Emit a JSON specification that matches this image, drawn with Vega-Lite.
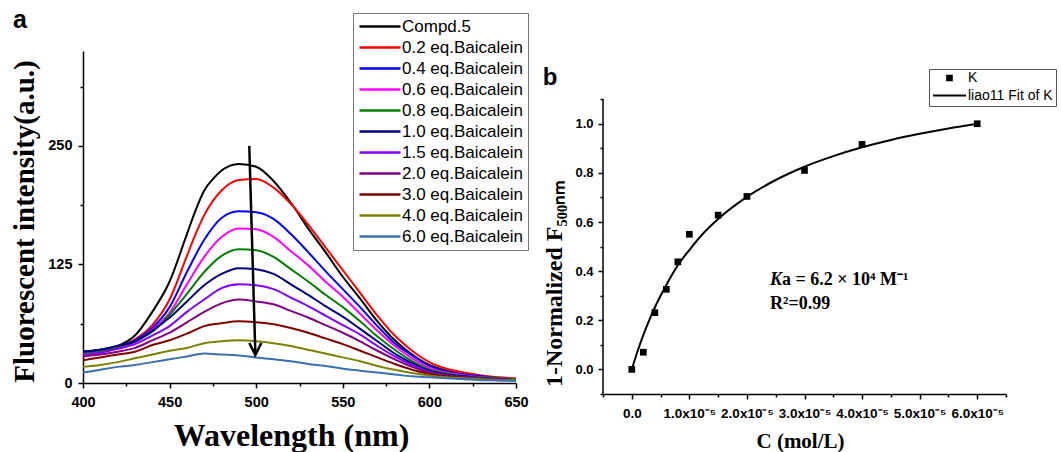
{
"$schema": "https://vega.github.io/schema/vega-lite/v6.json",
"padding": {"left": 10, "top": 8, "right": 0, "bottom": 0},
"spacing": 13,
"resolve": {"scale": {"color": "independent"}, "legend": {"color": "independent"}},
"config": {
  "view": {"stroke": null},
  "axis": {"domainColor": "black", "domainWidth": 1.5, "tickColor": "black", "tickWidth": 1.5, "labelColor": "black", "titleColor": "black", "labelFont": "Liberation Sans", "labelFontWeight": "bold", "titleFont": "Liberation Serif", "titleFontWeight": "bold", "grid": false, "labelOverlap": false, "labelFlush": false, "labelBound": false},
  "legend": {"labelFont": "Liberation Sans", "labelColor": "black"}
},
"datasets": {
  "spectra": [
{"s":"Compd.5","wl":400,"v":33},{"s":"Compd.5","wl":410,"v":35},{"s":"Compd.5","wl":420,"v":39},{"s":"Compd.5","wl":430,"v":50},{"s":"Compd.5","wl":440,"v":75},{"s":"Compd.5","wl":450,"v":107},{"s":"Compd.5","wl":460,"v":157},{"s":"Compd.5","wl":465,"v":182},{"s":"Compd.5","wl":470,"v":203},{"s":"Compd.5","wl":475,"v":215},{"s":"Compd.5","wl":480,"v":224},{"s":"Compd.5","wl":490,"v":231},{"s":"Compd.5","wl":500,"v":228},{"s":"Compd.5","wl":510,"v":213},{"s":"Compd.5","wl":520,"v":190},{"s":"Compd.5","wl":530,"v":163},{"s":"Compd.5","wl":540,"v":138},{"s":"Compd.5","wl":550,"v":112},{"s":"Compd.5","wl":560,"v":89},{"s":"Compd.5","wl":570,"v":65},{"s":"Compd.5","wl":580,"v":45},{"s":"Compd.5","wl":590,"v":30},{"s":"Compd.5","wl":600,"v":19},{"s":"Compd.5","wl":610,"v":13},{"s":"Compd.5","wl":620,"v":9},{"s":"Compd.5","wl":630,"v":6},{"s":"Compd.5","wl":640,"v":5},{"s":"Compd.5","wl":650,"v":4},
{"s":"0.2 eq.Baicalein","wl":400,"v":32},{"s":"0.2 eq.Baicalein","wl":410,"v":34},{"s":"0.2 eq.Baicalein","wl":420,"v":38},{"s":"0.2 eq.Baicalein","wl":430,"v":46},{"s":"0.2 eq.Baicalein","wl":440,"v":61},{"s":"0.2 eq.Baicalein","wl":450,"v":88},{"s":"0.2 eq.Baicalein","wl":460,"v":134},{"s":"0.2 eq.Baicalein","wl":465,"v":157},{"s":"0.2 eq.Baicalein","wl":470,"v":177},{"s":"0.2 eq.Baicalein","wl":475,"v":192},{"s":"0.2 eq.Baicalein","wl":480,"v":203},{"s":"0.2 eq.Baicalein","wl":490,"v":214},{"s":"0.2 eq.Baicalein","wl":500,"v":215},{"s":"0.2 eq.Baicalein","wl":510,"v":206},{"s":"0.2 eq.Baicalein","wl":520,"v":189},{"s":"0.2 eq.Baicalein","wl":530,"v":167},{"s":"0.2 eq.Baicalein","wl":540,"v":143},{"s":"0.2 eq.Baicalein","wl":550,"v":119},{"s":"0.2 eq.Baicalein","wl":560,"v":95},{"s":"0.2 eq.Baicalein","wl":570,"v":71},{"s":"0.2 eq.Baicalein","wl":580,"v":50},{"s":"0.2 eq.Baicalein","wl":590,"v":34},{"s":"0.2 eq.Baicalein","wl":600,"v":22},{"s":"0.2 eq.Baicalein","wl":610,"v":15},{"s":"0.2 eq.Baicalein","wl":620,"v":11},{"s":"0.2 eq.Baicalein","wl":630,"v":8},{"s":"0.2 eq.Baicalein","wl":640,"v":6},{"s":"0.2 eq.Baicalein","wl":650,"v":5},
{"s":"0.4 eq.Baicalein","wl":400,"v":33},{"s":"0.4 eq.Baicalein","wl":410,"v":35},{"s":"0.4 eq.Baicalein","wl":420,"v":39},{"s":"0.4 eq.Baicalein","wl":430,"v":45},{"s":"0.4 eq.Baicalein","wl":440,"v":58},{"s":"0.4 eq.Baicalein","wl":450,"v":80},{"s":"0.4 eq.Baicalein","wl":460,"v":117},{"s":"0.4 eq.Baicalein","wl":470,"v":151},{"s":"0.4 eq.Baicalein","wl":480,"v":174},{"s":"0.4 eq.Baicalein","wl":490,"v":181},{"s":"0.4 eq.Baicalein","wl":500,"v":180},{"s":"0.4 eq.Baicalein","wl":510,"v":173},{"s":"0.4 eq.Baicalein","wl":520,"v":157},{"s":"0.4 eq.Baicalein","wl":530,"v":138},{"s":"0.4 eq.Baicalein","wl":540,"v":118},{"s":"0.4 eq.Baicalein","wl":550,"v":99},{"s":"0.4 eq.Baicalein","wl":560,"v":80},{"s":"0.4 eq.Baicalein","wl":570,"v":60},{"s":"0.4 eq.Baicalein","wl":580,"v":42},{"s":"0.4 eq.Baicalein","wl":590,"v":29},{"s":"0.4 eq.Baicalein","wl":600,"v":18},{"s":"0.4 eq.Baicalein","wl":610,"v":12},{"s":"0.4 eq.Baicalein","wl":620,"v":9},{"s":"0.4 eq.Baicalein","wl":630,"v":7},{"s":"0.4 eq.Baicalein","wl":640,"v":5},{"s":"0.4 eq.Baicalein","wl":650,"v":4},
{"s":"0.6 eq.Baicalein","wl":400,"v":31},{"s":"0.6 eq.Baicalein","wl":410,"v":33},{"s":"0.6 eq.Baicalein","wl":420,"v":37},{"s":"0.6 eq.Baicalein","wl":430,"v":43},{"s":"0.6 eq.Baicalein","wl":440,"v":56},{"s":"0.6 eq.Baicalein","wl":450,"v":74},{"s":"0.6 eq.Baicalein","wl":460,"v":104},{"s":"0.6 eq.Baicalein","wl":470,"v":133},{"s":"0.6 eq.Baicalein","wl":480,"v":154},{"s":"0.6 eq.Baicalein","wl":490,"v":163},{"s":"0.6 eq.Baicalein","wl":500,"v":162},{"s":"0.6 eq.Baicalein","wl":510,"v":154},{"s":"0.6 eq.Baicalein","wl":520,"v":139},{"s":"0.6 eq.Baicalein","wl":530,"v":124},{"s":"0.6 eq.Baicalein","wl":540,"v":107},{"s":"0.6 eq.Baicalein","wl":550,"v":91},{"s":"0.6 eq.Baicalein","wl":560,"v":73},{"s":"0.6 eq.Baicalein","wl":570,"v":55},{"s":"0.6 eq.Baicalein","wl":580,"v":39},{"s":"0.6 eq.Baicalein","wl":590,"v":26},{"s":"0.6 eq.Baicalein","wl":600,"v":16},{"s":"0.6 eq.Baicalein","wl":610,"v":11},{"s":"0.6 eq.Baicalein","wl":620,"v":8},{"s":"0.6 eq.Baicalein","wl":630,"v":6},{"s":"0.6 eq.Baicalein","wl":640,"v":5},{"s":"0.6 eq.Baicalein","wl":650,"v":4},
{"s":"0.8 eq.Baicalein","wl":400,"v":32},{"s":"0.8 eq.Baicalein","wl":410,"v":34},{"s":"0.8 eq.Baicalein","wl":420,"v":38},{"s":"0.8 eq.Baicalein","wl":430,"v":44},{"s":"0.8 eq.Baicalein","wl":440,"v":54},{"s":"0.8 eq.Baicalein","wl":450,"v":72},{"s":"0.8 eq.Baicalein","wl":460,"v":94},{"s":"0.8 eq.Baicalein","wl":470,"v":117},{"s":"0.8 eq.Baicalein","wl":480,"v":134},{"s":"0.8 eq.Baicalein","wl":490,"v":141},{"s":"0.8 eq.Baicalein","wl":500,"v":140},{"s":"0.8 eq.Baicalein","wl":510,"v":133},{"s":"0.8 eq.Baicalein","wl":520,"v":120},{"s":"0.8 eq.Baicalein","wl":530,"v":107},{"s":"0.8 eq.Baicalein","wl":540,"v":93},{"s":"0.8 eq.Baicalein","wl":550,"v":80},{"s":"0.8 eq.Baicalein","wl":560,"v":65},{"s":"0.8 eq.Baicalein","wl":570,"v":49},{"s":"0.8 eq.Baicalein","wl":580,"v":35},{"s":"0.8 eq.Baicalein","wl":590,"v":23},{"s":"0.8 eq.Baicalein","wl":600,"v":14},{"s":"0.8 eq.Baicalein","wl":610,"v":10},{"s":"0.8 eq.Baicalein","wl":620,"v":7},{"s":"0.8 eq.Baicalein","wl":630,"v":6},{"s":"0.8 eq.Baicalein","wl":640,"v":5},{"s":"0.8 eq.Baicalein","wl":650,"v":4},
{"s":"1.0 eq.Baicalein","wl":400,"v":33},{"s":"1.0 eq.Baicalein","wl":410,"v":35},{"s":"1.0 eq.Baicalein","wl":420,"v":39},{"s":"1.0 eq.Baicalein","wl":430,"v":44},{"s":"1.0 eq.Baicalein","wl":440,"v":55},{"s":"1.0 eq.Baicalein","wl":450,"v":69},{"s":"1.0 eq.Baicalein","wl":460,"v":86},{"s":"1.0 eq.Baicalein","wl":470,"v":103},{"s":"1.0 eq.Baicalein","wl":480,"v":115},{"s":"1.0 eq.Baicalein","wl":490,"v":121},{"s":"1.0 eq.Baicalein","wl":500,"v":120},{"s":"1.0 eq.Baicalein","wl":510,"v":115},{"s":"1.0 eq.Baicalein","wl":520,"v":104},{"s":"1.0 eq.Baicalein","wl":530,"v":93},{"s":"1.0 eq.Baicalein","wl":540,"v":81},{"s":"1.0 eq.Baicalein","wl":550,"v":70},{"s":"1.0 eq.Baicalein","wl":560,"v":57},{"s":"1.0 eq.Baicalein","wl":570,"v":44},{"s":"1.0 eq.Baicalein","wl":580,"v":31},{"s":"1.0 eq.Baicalein","wl":590,"v":21},{"s":"1.0 eq.Baicalein","wl":600,"v":13},{"s":"1.0 eq.Baicalein","wl":610,"v":9},{"s":"1.0 eq.Baicalein","wl":620,"v":7},{"s":"1.0 eq.Baicalein","wl":630,"v":5},{"s":"1.0 eq.Baicalein","wl":640,"v":4},{"s":"1.0 eq.Baicalein","wl":650,"v":3},
{"s":"1.5 eq.Baicalein","wl":400,"v":30},{"s":"1.5 eq.Baicalein","wl":410,"v":32},{"s":"1.5 eq.Baicalein","wl":420,"v":36},{"s":"1.5 eq.Baicalein","wl":430,"v":41},{"s":"1.5 eq.Baicalein","wl":440,"v":50},{"s":"1.5 eq.Baicalein","wl":450,"v":60},{"s":"1.5 eq.Baicalein","wl":460,"v":75},{"s":"1.5 eq.Baicalein","wl":470,"v":88},{"s":"1.5 eq.Baicalein","wl":480,"v":100},{"s":"1.5 eq.Baicalein","wl":490,"v":104},{"s":"1.5 eq.Baicalein","wl":500,"v":103},{"s":"1.5 eq.Baicalein","wl":510,"v":99},{"s":"1.5 eq.Baicalein","wl":520,"v":90},{"s":"1.5 eq.Baicalein","wl":530,"v":81},{"s":"1.5 eq.Baicalein","wl":540,"v":71},{"s":"1.5 eq.Baicalein","wl":550,"v":61},{"s":"1.5 eq.Baicalein","wl":560,"v":51},{"s":"1.5 eq.Baicalein","wl":570,"v":39},{"s":"1.5 eq.Baicalein","wl":580,"v":28},{"s":"1.5 eq.Baicalein","wl":590,"v":19},{"s":"1.5 eq.Baicalein","wl":600,"v":12},{"s":"1.5 eq.Baicalein","wl":610,"v":8},{"s":"1.5 eq.Baicalein","wl":620,"v":6},{"s":"1.5 eq.Baicalein","wl":630,"v":5},{"s":"1.5 eq.Baicalein","wl":640,"v":4},{"s":"1.5 eq.Baicalein","wl":650,"v":3},
{"s":"2.0 eq.Baicalein","wl":400,"v":28},{"s":"2.0 eq.Baicalein","wl":410,"v":30},{"s":"2.0 eq.Baicalein","wl":420,"v":33},{"s":"2.0 eq.Baicalein","wl":430,"v":37},{"s":"2.0 eq.Baicalein","wl":440,"v":45},{"s":"2.0 eq.Baicalein","wl":450,"v":53},{"s":"2.0 eq.Baicalein","wl":460,"v":64},{"s":"2.0 eq.Baicalein","wl":470,"v":75},{"s":"2.0 eq.Baicalein","wl":480,"v":84},{"s":"2.0 eq.Baicalein","wl":490,"v":88},{"s":"2.0 eq.Baicalein","wl":500,"v":86},{"s":"2.0 eq.Baicalein","wl":510,"v":83},{"s":"2.0 eq.Baicalein","wl":520,"v":76},{"s":"2.0 eq.Baicalein","wl":530,"v":69},{"s":"2.0 eq.Baicalein","wl":540,"v":61},{"s":"2.0 eq.Baicalein","wl":550,"v":53},{"s":"2.0 eq.Baicalein","wl":560,"v":44},{"s":"2.0 eq.Baicalein","wl":570,"v":34},{"s":"2.0 eq.Baicalein","wl":580,"v":25},{"s":"2.0 eq.Baicalein","wl":590,"v":17},{"s":"2.0 eq.Baicalein","wl":600,"v":11},{"s":"2.0 eq.Baicalein","wl":610,"v":8},{"s":"2.0 eq.Baicalein","wl":620,"v":6},{"s":"2.0 eq.Baicalein","wl":630,"v":5},{"s":"2.0 eq.Baicalein","wl":640,"v":4},{"s":"2.0 eq.Baicalein","wl":650,"v":3},
{"s":"3.0 eq.Baicalein","wl":400,"v":24},{"s":"3.0 eq.Baicalein","wl":410,"v":27},{"s":"3.0 eq.Baicalein","wl":420,"v":30},{"s":"3.0 eq.Baicalein","wl":430,"v":33},{"s":"3.0 eq.Baicalein","wl":440,"v":40},{"s":"3.0 eq.Baicalein","wl":450,"v":45},{"s":"3.0 eq.Baicalein","wl":460,"v":52},{"s":"3.0 eq.Baicalein","wl":470,"v":60},{"s":"3.0 eq.Baicalein","wl":480,"v":63},{"s":"3.0 eq.Baicalein","wl":490,"v":65},{"s":"3.0 eq.Baicalein","wl":500,"v":64},{"s":"3.0 eq.Baicalein","wl":510,"v":62},{"s":"3.0 eq.Baicalein","wl":520,"v":58},{"s":"3.0 eq.Baicalein","wl":530,"v":53},{"s":"3.0 eq.Baicalein","wl":540,"v":47},{"s":"3.0 eq.Baicalein","wl":550,"v":41},{"s":"3.0 eq.Baicalein","wl":560,"v":34},{"s":"3.0 eq.Baicalein","wl":570,"v":27},{"s":"3.0 eq.Baicalein","wl":580,"v":20},{"s":"3.0 eq.Baicalein","wl":590,"v":14},{"s":"3.0 eq.Baicalein","wl":600,"v":9.5},{"s":"3.0 eq.Baicalein","wl":610,"v":7},{"s":"3.0 eq.Baicalein","wl":620,"v":5},{"s":"3.0 eq.Baicalein","wl":630,"v":4},{"s":"3.0 eq.Baicalein","wl":640,"v":3},{"s":"3.0 eq.Baicalein","wl":650,"v":3},
{"s":"4.0 eq.Baicalein","wl":400,"v":17},{"s":"4.0 eq.Baicalein","wl":410,"v":19},{"s":"4.0 eq.Baicalein","wl":420,"v":22},{"s":"4.0 eq.Baicalein","wl":430,"v":26},{"s":"4.0 eq.Baicalein","wl":440,"v":30},{"s":"4.0 eq.Baicalein","wl":450,"v":34},{"s":"4.0 eq.Baicalein","wl":460,"v":37},{"s":"4.0 eq.Baicalein","wl":470,"v":42},{"s":"4.0 eq.Baicalein","wl":480,"v":44},{"s":"4.0 eq.Baicalein","wl":490,"v":45},{"s":"4.0 eq.Baicalein","wl":500,"v":44},{"s":"4.0 eq.Baicalein","wl":510,"v":42},{"s":"4.0 eq.Baicalein","wl":520,"v":39},{"s":"4.0 eq.Baicalein","wl":530,"v":35},{"s":"4.0 eq.Baicalein","wl":540,"v":31},{"s":"4.0 eq.Baicalein","wl":550,"v":27},{"s":"4.0 eq.Baicalein","wl":560,"v":23},{"s":"4.0 eq.Baicalein","wl":570,"v":18},{"s":"4.0 eq.Baicalein","wl":580,"v":14},{"s":"4.0 eq.Baicalein","wl":590,"v":10.5},{"s":"4.0 eq.Baicalein","wl":600,"v":8},{"s":"4.0 eq.Baicalein","wl":610,"v":6},{"s":"4.0 eq.Baicalein","wl":620,"v":5},{"s":"4.0 eq.Baicalein","wl":630,"v":4},{"s":"4.0 eq.Baicalein","wl":640,"v":3},{"s":"4.0 eq.Baicalein","wl":650,"v":3},
{"s":"6.0 eq.Baicalein","wl":400,"v":11},{"s":"6.0 eq.Baicalein","wl":410,"v":14},{"s":"6.0 eq.Baicalein","wl":420,"v":17},{"s":"6.0 eq.Baicalein","wl":430,"v":19},{"s":"6.0 eq.Baicalein","wl":440,"v":22},{"s":"6.0 eq.Baicalein","wl":450,"v":25},{"s":"6.0 eq.Baicalein","wl":460,"v":28},{"s":"6.0 eq.Baicalein","wl":470,"v":31},{"s":"6.0 eq.Baicalein","wl":480,"v":30},{"s":"6.0 eq.Baicalein","wl":490,"v":29},{"s":"6.0 eq.Baicalein","wl":500,"v":27},{"s":"6.0 eq.Baicalein","wl":510,"v":25},{"s":"6.0 eq.Baicalein","wl":520,"v":23},{"s":"6.0 eq.Baicalein","wl":530,"v":20},{"s":"6.0 eq.Baicalein","wl":540,"v":18},{"s":"6.0 eq.Baicalein","wl":550,"v":15},{"s":"6.0 eq.Baicalein","wl":560,"v":13},{"s":"6.0 eq.Baicalein","wl":570,"v":11},{"s":"6.0 eq.Baicalein","wl":580,"v":9},{"s":"6.0 eq.Baicalein","wl":590,"v":7},{"s":"6.0 eq.Baicalein","wl":600,"v":6},{"s":"6.0 eq.Baicalein","wl":610,"v":5},{"s":"6.0 eq.Baicalein","wl":620,"v":4},{"s":"6.0 eq.Baicalein","wl":630,"v":3},{"s":"6.0 eq.Baicalein","wl":640,"v":3},{"s":"6.0 eq.Baicalein","wl":650,"v":2}
  ],
  "pts": [
{"k":"K","c":0,"f":0},{"k":"K","c":2e-6,"f":0.07},{"k":"K","c":4e-6,"f":0.231},{"k":"K","c":6e-6,"f":0.326},{"k":"K","c":8e-6,"f":0.438},{"k":"K","c":1e-5,"f":0.55},{"k":"K","c":1.5e-5,"f":0.628},{"k":"K","c":2e-5,"f":0.704},{"k":"K","c":3e-5,"f":0.81},{"k":"K","c":4e-5,"f":0.916},{"k":"K","c":6e-5,"f":1.0}
  ],
  "fit": [
{"k":"liao11 Fit of K","c":0,"f":0},{"k":"liao11 Fit of K","c":1e-6,"f":0.074},{"k":"liao11 Fit of K","c":2e-6,"f":0.14},{"k":"liao11 Fit of K","c":3e-6,"f":0.199},{"k":"liao11 Fit of K","c":4e-6,"f":0.252},{"k":"liao11 Fit of K","c":5e-6,"f":0.3},{"k":"liao11 Fit of K","c":6e-6,"f":0.344},{"k":"liao11 Fit of K","c":8e-6,"f":0.424},{"k":"liao11 Fit of K","c":1e-5,"f":0.486},{"k":"liao11 Fit of K","c":1.2e-5,"f":0.543},{"k":"liao11 Fit of K","c":1.5e-5,"f":0.612},{"k":"liao11 Fit of K","c":2e-5,"f":0.702},{"k":"liao11 Fit of K","c":2.5e-5,"f":0.771},{"k":"liao11 Fit of K","c":3e-5,"f":0.825},{"k":"liao11 Fit of K","c":3.5e-5,"f":0.868},{"k":"liao11 Fit of K","c":4e-5,"f":0.904},{"k":"liao11 Fit of K","c":4.5e-5,"f":0.934},{"k":"liao11 Fit of K","c":5e-5,"f":0.959},{"k":"liao11 Fit of K","c":5.5e-5,"f":0.981},{"k":"liao11 Fit of K","c":6e-5,"f":1.0}
  ]
},
"hconcat": [
  {
    "width": 433, "height": 332,
    "layer": [
      {
        "data": {"name": "spectra"},
        "mark": {"type": "line", "strokeWidth": 2, "interpolate": "monotone"},
        "encoding": {
          "x": {"field": "wl", "type": "quantitative", "scale": {"domain": [400, 650], "nice": false, "zero": false},
                "axis": {"values": [400,425,450,475,500,525,550,575,600,625,650], "tickCount": 100, "title": "Wavelength (nm)", "titleFontSize": 32, "titlePadding": 12, "titleX": 208, "labelFontSize": 14.5, "labelPadding": 7, "labelOverlap": false,
                         "tickSize": {"condition": {"test": "datum.value % 50 !== 0", "value": 3}, "value": 5},
                         "labelExpr": "datum.value % 50 ? '' : datum.label"}},
          "y": {"field": "v", "type": "quantitative", "scale": {"domain": [0, 350], "nice": false, "zero": false},
                "axis": {"values": [0,62.5,125,187.5,250,312.5], "tickCount": 100, "title": "Fluorescent intensity(a.u.)", "titleFontSize": 29, "titlePadding": 8, "titleY": 170, "labelFontSize": 14.5, "labelPadding": 6, "labelOverlap": false,
                         "tickSize": {"condition": {"test": "datum.value % 125 !== 0", "value": 3}, "value": 5},
                         "labelExpr": "datum.value % 125 ? '' : datum.label"}},
          "color": {"field": "s", "type": "nominal",
                    "scale": {"domain": ["Compd.5","0.2 eq.Baicalein","0.4 eq.Baicalein","0.6 eq.Baicalein","0.8 eq.Baicalein","1.0 eq.Baicalein","1.5 eq.Baicalein","2.0 eq.Baicalein","3.0 eq.Baicalein","4.0 eq.Baicalein","6.0 eq.Baicalein"],
                              "range": ["#000000","#FF0000","#0000FF","#FF00FF","#008000","#000080","#8000FF","#800080","#800000","#808000","#3A70B0"]},
                    "legend": {"title": null, "orient": "none", "legendX": 270, "legendY": -38, "symbolType": "stroke", "symbolSize": 1681, "symbolStrokeWidth": 2.5, "clipHeight": 17, "rowPadding": 3, "padding": 5, "labelFontSize": 17, "labelOffset": 0, "strokeColor": "#777777", "fillColor": "white", "labelLimit": 300}}
        }
      },
      {
        "data": {"values": [{"wl": 496, "v": 250, "wl2": 499.5, "v2": 31}]},
        "mark": {"type": "rule", "strokeWidth": 2.5, "color": "black"},
        "encoding": {"x": {"field": "wl", "type": "quantitative"}, "y": {"field": "v", "type": "quantitative"}, "x2": {"field": "wl2"}, "y2": {"field": "v2"}}
      },
      {
        "data": {"values": [{"wl": 499.5, "v": 29.5}]},
        "mark": {"type": "point", "shape": "M-0.5,-1L0,0L0.5,-1", "size": 576, "filled": false, "stroke": "black", "strokeWidth": 2.5, "opacity": 1},
        "encoding": {"x": {"field": "wl", "type": "quantitative"}, "y": {"field": "v", "type": "quantitative"}}
      },
      {
        "data": {"values": [{"wl": 363.6, "v": 374, "t": "a"}]},
        "mark": {"type": "text", "font": "Liberation Sans", "fontSize": 25, "fontWeight": "bold", "align": "center", "baseline": "alphabetic", "color": "black"},
        "encoding": {"x": {"field": "wl", "type": "quantitative"}, "y": {"field": "v", "type": "quantitative"}, "text": {"field": "t"}}
      }
    ]
  },
  {
    "width": 403, "height": 343,
    "layer": [
      {
        "data": {"name": "fit"},
        "mark": {"type": "line", "strokeWidth": 2, "interpolate": "monotone"},
        "encoding": {
          "x": {"field": "c", "type": "quantitative", "scale": {"domain": [-5e-6, 6.5e-5], "nice": false, "zero": false},
                "axis": {"values": [-5e-6,0,5e-6,1e-5,1.5e-5,2e-5,2.5e-5,3e-5,3.5e-5,4e-5,4.5e-5,5e-5,5.5e-5,6e-5,6.5e-5], "tickCount": 100, "title": "C (mol/L)", "titleFontSize": 21, "titlePadding": 11, "titleX": 197, "labelFontSize": 13.5, "labelPadding": 7, "labelOverlap": false,
                         "tickSize": {"condition": {"test": "indexof([0,1e-5,2e-5,3e-5,4e-5,5e-5,6e-5], datum.value) < 0", "value": 3}, "value": 5},
                         "labelExpr": "indexof([1e-5,2e-5,3e-5,4e-5,5e-5,6e-5], datum.value) >= 0 ? format(datum.value*100000, '.1f') + 'x10⁻⁵' : (datum.value == 0 ? '0.0' : '')"}},
          "y": {"field": "f", "type": "quantitative", "scale": {"domain": [-0.1, 1.296], "nice": false, "zero": false},
                "axis": {"values": [-0.1,0,0.1,0.2,0.3,0.4,0.5,0.6,0.7,0.8,0.9,1.0,1.1], "tickCount": 100, "domain": false, "title": "1-Normalized F₅₀₀ₙₘ", "titleFontSize": 24, "titlePadding": 8, "titleY": 232, "labelFontSize": 13, "labelPadding": 5, "labelOverlap": false,
                         "tickSize": {"condition": {"test": "indexof([0,0.2,0.4,0.6,0.8,1], datum.value) < 0", "value": 3}, "value": 5},
                         "labelExpr": "indexof([0,0.2,0.4,0.6,0.8,1], datum.value) >= 0 ? format(datum.value, '.1f') : ''"}},
          "color": {"field": "k", "type": "nominal",
                    "scale": {"domain": ["K", "liao11 Fit of K"], "range": ["black", "black"]},
                    "legend": {"title": null, "orient": "none", "legendX": 326, "legendY": 18, "symbolSize": 1089, "symbolStrokeWidth": 2, "clipHeight": 12, "rowPadding": 3.5, "padding": 3, "labelFontSize": 14, "labelOffset": 1, "strokeColor": "#555555", "fillColor": "white",
                               "encode": {"symbols": {"update": {
                                 "shape": {"signal": "datum.value === 'K' ? 'M-0.14,-0.14L0.14,-0.14L0.14,0.14L-0.14,0.14Z' : 'stroke'"},
                                 "fill": {"value": "black"},
                                 "stroke": {"value": "black"},
                                 "opacity": {"value": 1}}}}}}
        }
      },
      {
        "data": {"name": "pts"},
        "mark": {"type": "point", "shape": "square", "filled": true, "size": 45, "opacity": 1},
        "encoding": {"x": {"field": "c", "type": "quantitative"}, "y": {"field": "f", "type": "quantitative"}, "color": {"field": "k", "type": "nominal"}}
      },
      {
        "data": {"values": [{"c": -5e-6, "f": -0.1, "f2": 1.1}]},
        "mark": {"type": "rule", "strokeWidth": 1.5, "color": "black"},
        "encoding": {"x": {"field": "c", "type": "quantitative"}, "y": {"field": "f", "type": "quantitative"}, "y2": {"field": "f2"}}
      },
      {
        "data": {"values": [{"c": 2.402e-5, "f": 0.3435, "t": "K"}]},
        "mark": {"type": "text", "font": "Liberation Serif", "fontSize": 18, "fontWeight": "bold", "fontStyle": "italic", "align": "left", "baseline": "alphabetic", "color": "black"},
        "encoding": {"x": {"field": "c", "type": "quantitative"}, "y": {"field": "f", "type": "quantitative"}, "text": {"field": "t"}}
      },
      {
        "data": {"values": [{"c": 2.611e-5, "f": 0.3435, "t": "a = 6.2 × 10⁴ M⁻¹"}, {"c": 2.402e-5, "f": 0.246, "t": "R²=0.99"}]},
        "mark": {"type": "text", "font": "Liberation Serif", "fontSize": 18, "fontWeight": "bold", "align": "left", "baseline": "alphabetic", "color": "black"},
        "encoding": {"x": {"field": "c", "type": "quantitative"}, "y": {"field": "f", "type": "quantitative"}, "text": {"field": "t"}}
      },
      {
        "data": {"values": [{"c": -1.419e-5, "f": 1.1575, "t": "b"}]},
        "mark": {"type": "text", "font": "Liberation Sans", "fontSize": 24, "fontWeight": "bold", "align": "center", "baseline": "alphabetic", "color": "black"},
        "encoding": {"x": {"field": "c", "type": "quantitative"}, "y": {"field": "f", "type": "quantitative"}, "text": {"field": "t"}}
      }
    ]
  }
]
}
